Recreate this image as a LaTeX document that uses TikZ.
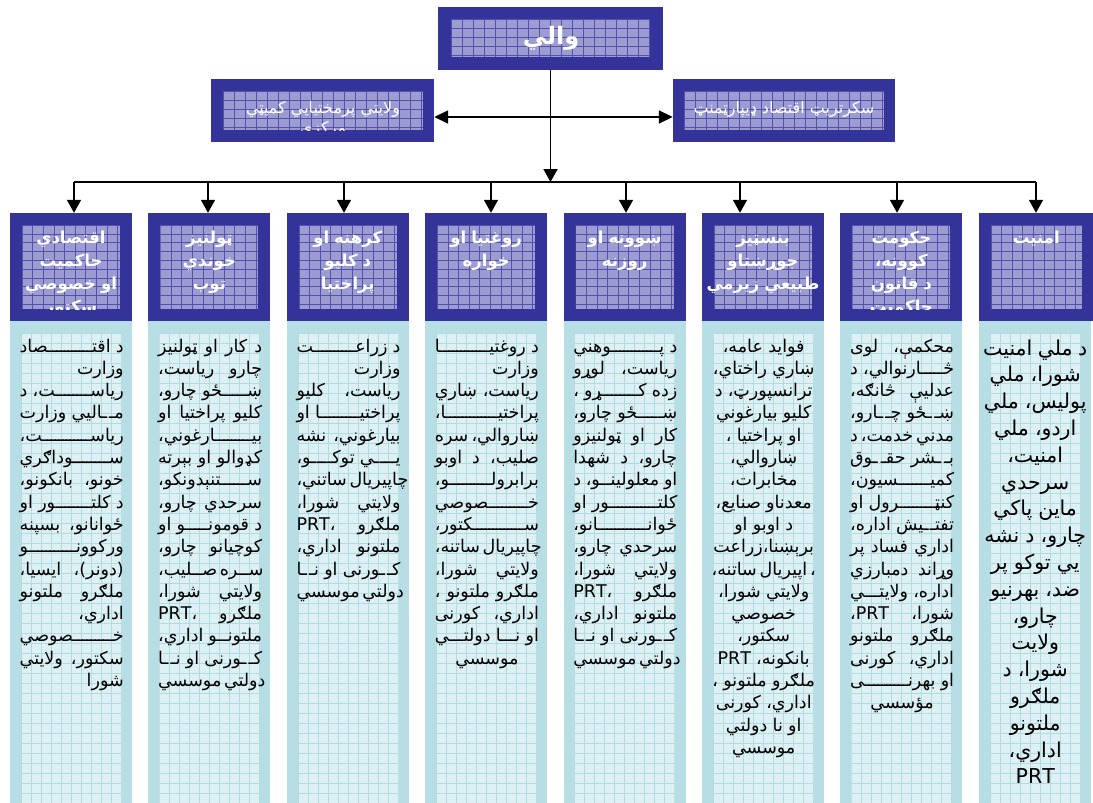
\documentclass[tikz,border=0pt]{standalone}
\usepackage{fontspec}
\usetikzlibrary{arrows.meta}
\newfontfamily\arabicfont[Script=Arabic]{DejaVu Sans}
\TeXXeTstate=1
\definecolor{dblue}{RGB}{51,51,153}
\definecolor{hin}{RGB}{156,156,210}
\definecolor{hgr}{RGB}{82,82,172}
\definecolor{bout}{RGB}{183,222,228}
\definecolor{bin}{RGB}{221,240,243}
\definecolor{bgr}{RGB}{178,218,225}
\newlength\tw
\newcommand\kk{\xleaders\hbox{\kern-0.7pt ـ\kern-0.7pt}\hskip0pt plus 1fill\relax}
\newcommand\KW[2]{#1ـ\kk ـ#2}
\newcommand\LL[1]{\beginL #1\endL}
\newcommand\JJ[1]{\hbox to\tw{\beginR #1\endR}}
\newcommand\RR[1]{\hbox to\tw{\hskip0pt plus1filll\beginR #1\endR}}
\newcommand\CC[1]{\hbox to\tw{\hskip0pt plus1filll\beginR #1\endR\hskip0pt plus1filll}}
\newcommand\bsetup{\lineskiplimit=-100pt\lineskip=0pt\spaceskip=0.3em plus 1fil minus 0.15em\relax}
\newcommand\gridrect[8]{%
  \fill[#5] (#1,#2) rectangle (#3,#4);
  \begin{scope}
    \clip (#1,#2) rectangle (#3,#4);
    \foreach \k in {0,...,50} {\draw[#6,line width=0.6pt] ({#1+\k*#7},#2) -- ({#1+\k*#7},#4);}
    \foreach \k in {0,...,50} {\draw[#6,line width=0.6pt] (#1,{#2+\k*#8}) -- (#3,{#2+\k*#8});}
  \end{scope}}
\begin{document}
\begin{tikzpicture}[x=1pt,y=-1pt,
  obox/.style={draw=none, fill=dblue, inner sep=0pt, rectangle},
  conn/.style={line width=1.7pt, black},
  arr/.style={conn,-{Triangle[length=13pt,width=14pt]}},
  dbl/.style={conn,{Triangle[length=14pt,width=13pt]}-{Triangle[length=14pt,width=13pt]}},
  btext/.style={anchor=base west, inner sep=0pt, text=black, font=\arabicfont\fontsize{17.5}{22.3}\selectfont\bsetup},
  btextL/.style={anchor=base west, inner sep=0pt, text=black, font=\arabicfont\fontsize{20.5}{26.8}\selectfont\bsetup},
  htext/.style={anchor=base, inner sep=0pt, text=white, font=\arabicfont\bfseries\fontsize{16.5}{23}\selectfont\bsetup},
  ttext/.style={anchor=base, inner sep=0pt, text=white, font=\arabicfont\fontsize{16}{18}\selectfont}]
\useasboundingbox (0,0) rectangle (1093,803);
\fill[white] (0,0) rectangle (1093,803);

% ---------- top boxes ----------
\node[obox, minimum width=225pt, minimum height=63pt] (vali) at (550.5,38.5) {};
\gridrect{451}{19}{650}{57}{hin}{hgr}{11}{9}
\node[anchor=center, inner sep=0pt, text=white, font=\arabicfont\bfseries\fontsize{24}{26}\selectfont] (valit) at (551,38) {والي};

\node[obox, minimum width=223pt, minimum height=63pt] (lbox) at (322.5,110.5) {};
\gridrect{223}{91}{423}{130}{hin}{hgr}{11}{9}
\begin{scope}
\clip (223,91) rectangle (423,130);
\node[ttext] (lt1) at (323,113) {\beginR ولايتي پرمختيايي کميټي\endR};
\node[ttext] (lt2) at (323,133) {\beginR مرکزي\endR};
\end{scope}

\node[obox, minimum width=222pt, minimum height=63pt] (rbox) at (784,110.5) {};
\gridrect{684}{91}{884}{130}{hin}{hgr}{11}{9}
\node[ttext] (rt1) at (784,113) {\beginR سکرتريټ اقتصاد ډيپارټمنټ\endR};

% ---------- connectors ----------
\draw[dbl] ([yshift=-6.5pt]lbox.east) -- ([yshift=-6.5pt]rbox.west);
\coordinate (bus) at (550.5,182);
\coordinate (b1) at (74,182);
\coordinate (b2) at (208,182);
\coordinate (b3) at (344,182);
\coordinate (b4) at (491,182);
\coordinate (b5) at (626,182);
\coordinate (b6) at (740,182);
\coordinate (b7) at (897,182);
\coordinate (b8) at (1036,182);
\draw[conn] (b1) -- (b8);
\draw[arr] (vali.south) -- (bus);

% ---------- column bodies ----------
\foreach \L in {10,148.4,286.8,425.2,563.6,702,840.4} {
  \fill[bout] (\L,320) rectangle ({\L+122},806);
  \gridrect{\L+11}{333}{\L+111}{806}{bin}{bgr}{10}{10}
}
\fill[bout] (978.8,320) rectangle (1090.5,806);
\gridrect{989.8}{333}{1079.5}{806}{bin}{bgr}{10}{10}

% ---------- header boxes ----------
\node[obox, minimum width=122pt, minimum height=108pt] (h1) at (71,267) {};
\node[obox, minimum width=122pt, minimum height=108pt] (h2) at (209.4,267) {};
\node[obox, minimum width=122pt, minimum height=108pt] (h3) at (347.8,267) {};
\node[obox, minimum width=122pt, minimum height=108pt] (h4) at (486.2,267) {};
\node[obox, minimum width=122pt, minimum height=108pt] (h5) at (624.6,267) {};
\node[obox, minimum width=122pt, minimum height=108pt] (h6) at (763,267) {};
\node[obox, minimum width=122pt, minimum height=108pt] (h7) at (901.4,267) {};
\node[obox, minimum width=115pt, minimum height=108pt] (h8) at (1036.3,267) {};
\foreach \L in {10,148.4,286.8,425.2,563.6,702,840.4} {
  \gridrect{\L+12}{225}{\L+110}{309}{hin}{hgr}{10.6}{8.8}
}
\gridrect{990.8}{225}{1081.8}{309}{hin}{hgr}{10.6}{8.8}

\foreach \i in {1,...,8} { \draw[arr] (b\i) -- (b\i |- h\i.north); }

% ---------- header texts ----------
\begin{scope}
\clip (22,225) rectangle (120,309);
\node[htext] (ht1) at (71,243) {\setlength\tw{120pt}\vtop{\CC{اقتصادي}\CC{حاکميت}\CC{او خصوصي}\CC{سکتور}}};
\end{scope}
\node[htext] (ht2) at (209.4,243) {\setlength\tw{110pt}\vtop{\CC{ټولنيز}\CC{خوندي}\CC{توب}}};
\node[htext] (ht3) at (347.8,243) {\setlength\tw{110pt}\vtop{\CC{کرهنه او}\CC{د کليو}\CC{پراختيا}}};
\node[htext] (ht4) at (486.2,243) {\setlength\tw{110pt}\vtop{\CC{روغتيا او}\CC{خواره}}};
\node[htext] (ht5) at (624.6,243) {\setlength\tw{110pt}\vtop{\CC{ښوونه او}\CC{روزنه}}};
\node[htext] (ht6) at (763,243) {\setlength\tw{120pt}\vtop{\CC{بنسټيز}\CC{جوړښتاو}\CC{طبيعي زيرمي}}};
\begin{scope}
\clip (852.4,225) rectangle (950.4,309);
\node[htext] (ht7) at (901.4,243) {\setlength\tw{110pt}\vtop{\CC{حکومت}\CC{کوونه،}\CC{د قانون}\CC{حاکميت}}};
\end{scope}
\node[htext] (ht8) at (1036.3,243) {\setlength\tw{100pt}\vtop{\CC{امنيت}}};

% ---------- body texts ----------
\node[btext] (t1) at (19.5,352) {\setlength\tw{104pt}\vtop{%
\JJ{د \KW{اقت}{صاد}}
\RR{وزارت}
\JJ{\KW{رياس}{ت}، د}
\JJ{\KW{م}{اليي} وزارت}
\JJ{\KW{رياس}{ت}،}
\JJ{\KW{س}{وداګري}}
\JJ{خونو، بانکونو،}
\JJ{د \KW{کلت}{ور} او}
\JJ{ځوانانو، بسپنه}
\JJ{\KW{ورکوون}{و}}
\JJ{(دونر)، ايسيا،}
\JJ{ملګرو ملتونو}
\RR{اداري،}
\JJ{\KW{خ}{صوصي}}
\JJ{سکتور، ولايتي}
\RR{شورا}}};

\node[btext] (t2) at (157.9,352) {\setlength\tw{104pt}\vtop{%
\JJ{د کار او ټولنيز}
\JJ{چارو رياست،}
\JJ{\KW{ښ}{ځو} چارو،}
\JJ{کليو پراختيا او}
\JJ{\KW{بي}{ارغوني}،}
\JJ{کډوالو او بېرته}
\JJ{\KW{س}{تنېدونکو}،}
\JJ{سرحدي چارو،}
\JJ{د \KW{قومون}{و} او}
\JJ{کوچيانو چارو،}
\JJ{\KW{س}{ره} \KW{ص}{ليب}،}
\JJ{ولايتي شورا،}
\JJ{ملګرو ،\LL{PRT}}
\JJ{\KW{ملتون}{و} اداري،}
\JJ{\KW{ک}{ورنی} او \KW{ن}{ا}}
\CC{دولتي موسسي}}};

\node[btext] (t3) at (296.3,352) {\setlength\tw{104pt}\vtop{%
\JJ{د \KW{زراع}{ت}}
\RR{وزارت}
\JJ{رياست، کليو}
\JJ{\KW{پراختي}{ا} او}
\JJ{بيارغوني، نشه}
\JJ{\KW{ي}{ي} \KW{توک}{و}،}
\JJ{چاپيريال ساتني،}
\JJ{ولايتي شورا،}
\JJ{ملګرو ،\LL{PRT}}
\JJ{ملتونو اداري،}
\JJ{\KW{ک}{ورنی} او \KW{ن}{ا}}
\CC{دولتي موسسي}}};

\node[btext] (t4) at (434.7,352) {\setlength\tw{104pt}\vtop{%
\JJ{د \KW{روغتي}{ا}}
\RR{وزارت}
\JJ{رياست، ښاري}
\JJ{\KW{پراختي}{ا}،}
\JJ{ښاروالي، سره}
\JJ{صليب، د اوبو}
\JJ{\KW{برابرول}{و}،}
\JJ{\KW{خ}{صوصي}}
\JJ{\KW{س}{کتور}،}
\JJ{چاپيريال ساتنه،}
\JJ{ولايتي شورا،}
\JJ{ملګرو ملتونو ،}
\JJ{اداري، کورنی}
\JJ{او \KW{ن}{ا} \KW{دولت}{ي}}
\CC{موسسي}}};

\node[btext] (t5) at (573.1,352) {\setlength\tw{104pt}\vtop{%
\JJ{د \KW{پ}{وهني}}
\JJ{رياست، لوړو}
\JJ{زده \KW{ک}{ړو} ،}
\JJ{\KW{ښ}{ځو} چارو،}
\JJ{کار او ټولنيزو}
\JJ{چارو، د شهدا}
\JJ{او \KW{معلولين}{و}، د}
\JJ{\KW{کلت}{ور} او}
\JJ{\KW{ځوان}{انو}،}
\JJ{سرحدي چارو،}
\JJ{ولايتي شورا،}
\JJ{ملګرو ،\LL{PRT}}
\JJ{ملتونو اداري،}
\JJ{\KW{ک}{ورنی} او \KW{ن}{ا}}
\CC{دولتي موسسي}}};

\node[btext] (t6) at (711.5,352) {\setlength\tw{104pt}\vtop{%
\CC{فوايد عامه،}
\CC{ښاري راختاي،}
\CC{ترانسپورټ، د}
\CC{کليو بيارغوني}
\CC{او پراختيا ،}
\CC{ښاروالي،}
\CC{مخابرات،}
\CC{معدناو صنايع،}
\CC{د اوبو او}
\CC{برېښنا،زراعت}
\CC{، اپيريال ساتنه،}
\CC{ولايتي شورا،}
\CC{خصوصي}
\CC{سکتور،}
\CC{بانکونه، \LL{PRT}}
\CC{ملګرو ملتونو ،}
\CC{اداري، کورنی}
\CC{او نا دولتي}
\CC{موسسي}}};

\node[btext] (t7) at (849.9,352) {\setlength\tw{104pt}\vtop{%
\JJ{محکمې، لوی}
\JJ{\KW{څ}{ارنوالي}، د}
\JJ{عدليې څانګه،}
\JJ{\KW{ښ}{ځو} \KW{چ}{ارو}،}
\JJ{مدني خدمت، د}
\JJ{\KW{ب}{شر} \KW{حق}{وق}}
\JJ{\KW{کمي}{سيون}،}
\JJ{\KW{کنټ}{رول} او}
\JJ{\KW{تفت}{يش} اداره،}
\JJ{اداري فساد پر}
\JJ{وړاند دمبارزي}
\JJ{اداره، \KW{ولايت}{ي}}
\JJ{شورا، \LL{PRT}،}
\JJ{ملګرو ملتونو}
\JJ{اداري، کورنی}
\JJ{او \KW{بهرن}{ی}}
\CC{مؤسسي}}};

\node[btextL] (t8) at (983,355) {\setlength\tw{104pt}\vtop{%
\CC{د ملي امنيت}
\CC{شورا، ملي}
\CC{پوليس، ملي}
\CC{اردو، ملي}
\CC{امنيت،}
\CC{سرحدي}
\CC{ماين پاکي}
\CC{چارو، د نشه}
\CC{يي توکو پر}
\CC{ضد، بهرنيو}
\CC{چارو،}
\CC{ولايت}
\CC{شورا، د}
\CC{ملګرو}
\CC{ملتونو}
\CC{اداري،}
\CC{\LL{PRT}}}};
\end{tikzpicture}
\end{document}
